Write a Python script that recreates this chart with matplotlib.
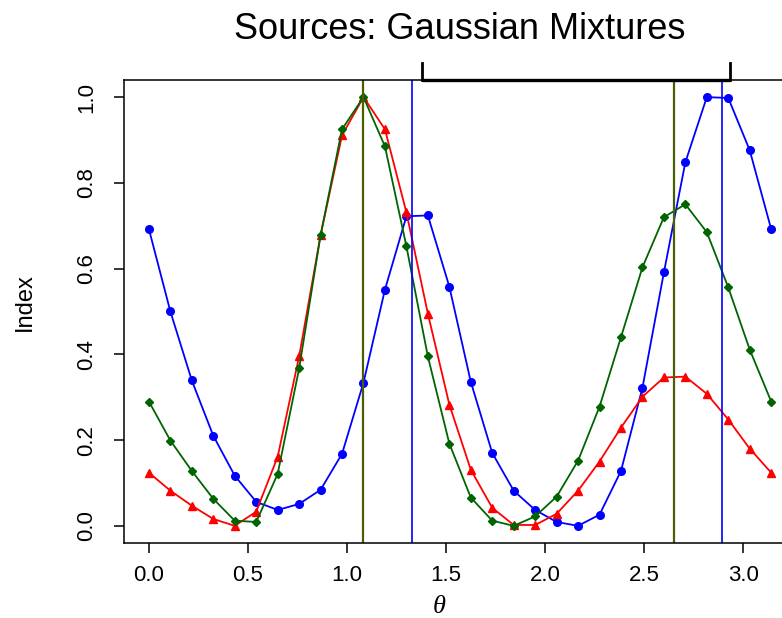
import numpy as np
import matplotlib
matplotlib.use('Agg')
import matplotlib.pyplot as plt

plt.rcParams['font.family'] = ['Liberation Sans', 'DejaVu Sans']

# theta grid: 30 points on [0, pi]
theta = np.linspace(0, np.pi, 30)

blue = [0.692, 0.500, 0.339, 0.210, 0.117, 0.056, 0.037, 0.051, 0.084, 0.168,
        0.334, 0.551, 0.722, 0.724, 0.558, 0.336, 0.170, 0.082, 0.037, 0.009,
        0.000, 0.026, 0.128, 0.322, 0.591, 0.848, 1.000, 0.998, 0.876, 0.692]
red = [0.124, 0.082, 0.047, 0.016, 0.000, 0.033, 0.161, 0.395, 0.678, 0.911,
       1.000, 0.925, 0.731, 0.495, 0.283, 0.131, 0.042, 0.002, 0.002, 0.028,
       0.082, 0.150, 0.229, 0.301, 0.346, 0.348, 0.308, 0.248, 0.180, 0.124]
green = [0.290, 0.199, 0.128, 0.063, 0.012, 0.009, 0.121, 0.367, 0.678, 0.925,
         1.000, 0.885, 0.652, 0.395, 0.192, 0.066, 0.012, 0.000, 0.022, 0.068,
         0.152, 0.278, 0.440, 0.603, 0.720, 0.750, 0.685, 0.556, 0.411, 0.290]

# estimated source locations
olive_lines = [1.0833, 2.652]
blue_lines = [1.328, 2.894]
# interval marker drawn above the box
bracket = (1.379, 2.934)

fig = plt.figure(figsize=(7.82, 6.18), dpi=100)
ax = fig.add_axes([0.1586, 0.1214, 0.8594, 0.7492])

ax.plot(theta, blue, color='#0000ff', lw=1.3, marker='o', ms=5.5, mec='#0000ff')
ax.plot(theta, red, color='#ff0000', lw=1.3, marker='^', ms=5.5, mec='#ff0000')
ax.plot(theta, green, color='#006400', lw=1.3, marker='D', ms=3.8, mec='#006400')

for v in olive_lines:
    ax.axvline(v, color='#4a5f05', lw=1.6)
for v in blue_lines:
    ax.axvline(v, color='#0000ff', lw=1.2)

ax.set_xlim(-0.04 * np.pi, 1.04 * np.pi)
ax.set_ylim(-0.04, 1.04)

y0, y1 = 1.04, 1.08
ax.plot([bracket[0], bracket[1]], [y0, y0], color='black', lw=2.4, clip_on=False,
        solid_capstyle='butt')
ax.plot([bracket[0], bracket[0]], [y0, y1], color='black', lw=2.0, clip_on=False)
ax.plot([bracket[1], bracket[1]], [y0, y1], color='black', lw=2.0, clip_on=False)

ax.set_xticks([0.0, 0.5, 1.0, 1.5, 2.0, 2.5, 3.0])
ax.set_xticklabels(['0.0', '0.5', '1.0', '1.5', '2.0', '2.5', '3.0'])
ax.set_yticks([0.0, 0.2, 0.4, 0.6, 0.8, 1.0])
ax.set_yticklabels(['0.0', '0.2', '0.4', '0.6', '0.8', '1.0'], rotation=90, va='center')

ax.tick_params(axis='both', direction='out', length=7.5, width=1.1, labelsize=16)
ax.tick_params(axis='x', pad=8)
ax.tick_params(axis='y', pad=12)
for s in ax.spines.values():
    s.set_linewidth(1.1)

ax.set_xlabel('θ', family=['Liberation Serif', 'DejaVu Serif'], style='italic',
              fontsize=19)
ax.xaxis.set_label_coords(0.469, -0.115)
ax.set_ylabel('Index', fontsize=17)
ax.yaxis.set_label_coords(-0.131, 0.52)

fig.text(0.588, 0.952, 'Sources: Gaussian Mixtures', ha='center', va='center',
         fontsize=26)

fig.savefig('out.png', dpi=100)
